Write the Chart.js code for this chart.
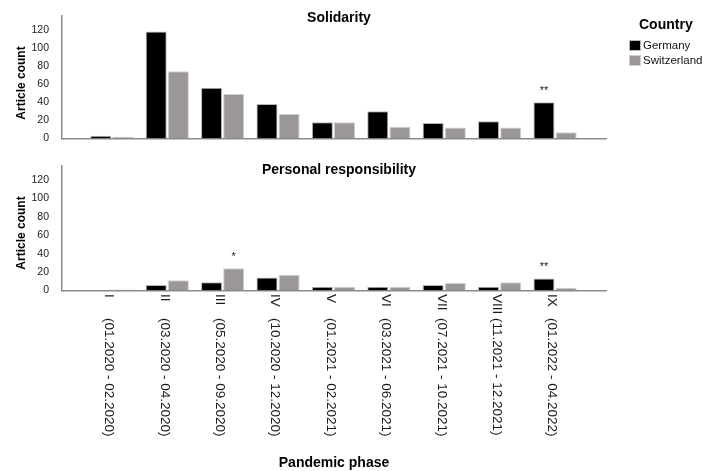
<!DOCTYPE html>
<html><head><meta charset="utf-8">
<script src="https://cdn.jsdelivr.net/npm/chart.js@4"></script>
<style>
html,body{margin:0;padding:0;background:#fff;}
#wrap{position:relative;width:702px;height:471px;overflow:hidden;}
canvas{position:absolute;left:0;}
</style>
</head><body>
<div id="wrap">
<canvas id="c1" width="702" height="150" style="top:0"></canvas>
<canvas id="c2" width="702" height="321" style="top:150px"></canvas>
</div>
<script>
// ---- data ----
const phaseNumerals = ['I','II','III','IV','V','VI','VII','VIII','IX'];
const phasePeriods = ['(01.2020 - 02.2020)','(03.2020 - 04.2020)','(05.2020 - 09.2020)','(10.2020 - 12.2020)','(01.2021 - 02.2021)','(03.2021 - 06.2021)','(07.2021 - 10.2021)','(11.2021 - 12.2021)','(01.2022 - 04.2022)'];
const seriesNames = ['Germany','Switzerland'];
const solidarityGermany = [3,118,56,38,18,30,17,19,40];
const solidaritySwitzerland = [2,74,49,27,18,13,12,12,7];
const responsibilityGermany = [0,6,9,14,4,4,6,4,13];
const responsibilitySwitzerland = [1,11,24,17,4,4,8,9,3];
const yTickValues = [0,20,40,60,80,100,120];
const solidarityMarks = [{series:0, index:8, text:'**'}];
const responsibilityMarks = [{series:1, index:2, text:'*'}, {series:0, index:8, text:'**'}];

const FONT = '"Liberation Sans", Arial, Helvetica, sans-serif';
const colors = ['#000000', '#9c9797'];
const borderCols = ['#b8b8b8', '#cfcfcf'];

const textPlugin = {
  id: 'txt',
  afterDraw(chart, args, o) {
    const ctx = chart.ctx, ca = chart.chartArea;
    ctx.save();
    ctx.fillStyle = '#000';
    ctx.textAlign = 'center'; ctx.textBaseline = 'middle';
    ctx.font = 'bold 14px ' + FONT;
    ctx.fillText(o.title, (ca.left + ca.right) / 2 + 5, o.titleY);
    // y axis title
    ctx.save();
    ctx.translate(22, 83);
    ctx.rotate(-Math.PI / 2);
    ctx.font = 'bold 12px ' + FONT;
    ctx.fillText('Article count', 0, 0);
    ctx.restore();
    // significance marks
    ctx.font = '11px ' + FONT;
    ctx.textBaseline = 'alphabetic';
    ctx.fillStyle = '#222';
    o.marks.forEach(m => {
      const el = chart.getDatasetMeta(m.series).data[m.index];
      ctx.fillText(m.text, el.x, el.y - 8.5);
    });
    if (o.legend) {
      ctx.textAlign = 'left'; ctx.textBaseline = 'middle';
      ctx.fillStyle = '#000';
      ctx.font = 'bold 14px ' + FONT;
      ctx.fillText('Country', 639, 25);
      ctx.font = '11.5px ' + FONT;
      chart.data.datasets.forEach((ds, i) => {
        const y = 40 + i * 15;
        ctx.fillStyle = ds.backgroundColor;
        ctx.fillRect(629, y, 12, 11);
        ctx.strokeStyle = ds.borderColor; ctx.lineWidth = 1;
        ctx.strokeRect(629.5, y + 0.5, 11, 10);
        ctx.fillStyle = '#111';
        ctx.fillText(ds.label, 643, y + 6);
      });
    }
    if (o.xLabels) {
      const xs = chart.scales.x;
      ctx.fillStyle = '#1a1a1a';
      ctx.font = '13.5px ' + FONT;
      ctx.textAlign = 'left'; ctx.textBaseline = 'middle';
      phaseNumerals.forEach((n, i) => {
        const x = xs.getPixelForValue(i) - 3;
        ctx.save();
        ctx.translate(x, ca.bottom + 3.5);
        ctx.rotate(Math.PI / 2);
        ctx.fillText(n, 0, 0);
        ctx.fillText(phasePeriods[i], 24, 0);
        ctx.restore();
      });
      ctx.fillStyle = '#000';
      ctx.textAlign = 'center';
      ctx.font = 'bold 14px ' + FONT;
      ctx.fillText('Pandemic phase', 334, 313);
    }
    ctx.restore();
  }
};

function makeChart(id, gData, sData, opts) {
  const sets = [gData, sData].map((vals, k) => ({
    label: seriesNames[k],
    data: vals.map((v, i) => ({x: i, y: v})),
    backgroundColor: colors[k],
    borderColor: borderCols[k],
    borderWidth: 1,
    categoryPercentage: 0.8,
    barPercentage: 0.95
  }));
  return new Chart(document.getElementById(id), {
    type: 'bar',
    data: {datasets: sets},
    plugins: [textPlugin],
    options: {
      responsive: false,
      animation: false,
      devicePixelRatio: 1,
      layout: {padding: {left: 0, right: 96, top: 16, bottom: opts.padBottom}},
      plugins: {
        legend: {display: false},
        tooltip: {enabled: false},
        txt: opts
      },
      scales: {
        x: {
          type: 'linear', min: -0.9, max: 8.92, offset: false,
          grid: {display: false, offset: false},
          ticks: {display: false},
          afterBuildTicks(s) { s.ticks = phaseNumerals.map((_, i) => ({value: i})); },
          border: {display: true, color: '#8a8a8a', width: 1.5},
          afterFit(s) { s.height = 0; }
        },
        y: {
          min: 0, max: 135,
          grid: {display: false},
          border: {display: true, color: '#8a8a8a', width: 1.5},
          afterBuildTicks(s) { s.ticks = yTickValues.map(v => ({value: v})); },
          ticks: {font: {family: FONT, size: 10.5}, color: '#222', padding: 5},
          afterFit(s) { s.width = 62; }
        }
      }
    }
  });
}

makeChart('c1', solidarityGermany, solidaritySwitzerland,
  {title: 'Solidarity', titleY: 18, marks: solidarityMarks, legend: true, xLabels: false, padBottom: 11.5});
makeChart('c2', responsibilityGermany, responsibilitySwitzerland,
  {title: 'Personal responsibility', titleY: 20, marks: responsibilityMarks, legend: false, xLabels: true, padBottom: 180.5});
</script>
</body></html>
